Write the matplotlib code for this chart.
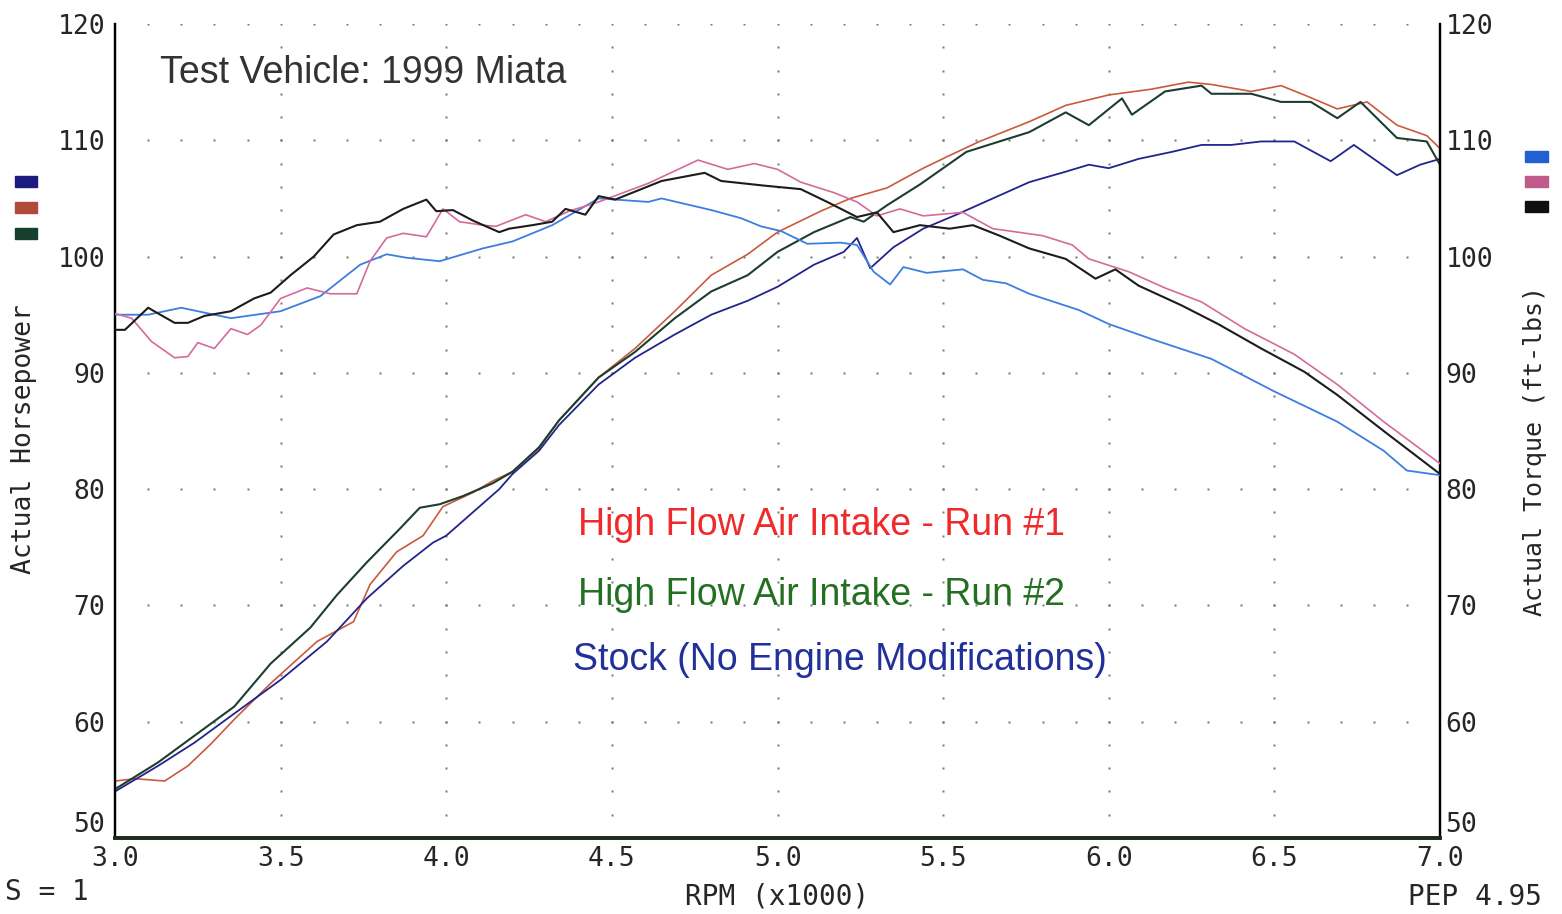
import numpy as np
import matplotlib
matplotlib.use("Agg")
import matplotlib.pyplot as plt
from matplotlib.patches import Rectangle

# ---------------- data ----------------
rpm_tq_stock = [3.0, 3.1, 3.2, 3.35, 3.5, 3.62, 3.74, 3.82, 3.88, 3.98, 4.11, 4.2, 4.32, 4.46, 4.61, 4.65,
                4.8, 4.89, 4.95, 5.01, 5.09, 5.19, 5.24, 5.29, 5.34, 5.38, 5.45, 5.56, 5.62, 5.69, 5.76, 5.91, 6.0,
                6.13, 6.31, 6.5, 6.69, 6.83, 6.9, 7.0]
tq_stock = [95.0, 95.0, 95.6, 94.7, 95.3, 96.6, 99.3, 100.2, 99.9, 99.6, 100.7, 101.3, 102.7, 105.0, 104.7, 105.0,
            104.0, 103.3, 102.6, 102.2, 101.1, 101.2, 101.0, 98.7, 97.6, 99.1, 98.6, 98.9, 98.0, 97.7, 96.8, 95.4, 94.2,
            92.9, 91.2, 88.4, 85.8, 83.3, 81.6, 81.2]

rpm_tq_run1 = [3.0, 3.05, 3.11, 3.18, 3.22, 3.25, 3.3, 3.35, 3.4, 3.44, 3.5, 3.58, 3.65, 3.73, 3.77, 3.82, 3.87,
               3.94, 3.99, 4.04, 4.11, 4.15, 4.24, 4.3, 4.37, 4.46, 4.61, 4.76, 4.85, 4.93, 5.0, 5.07, 5.17,
               5.24, 5.3, 5.37, 5.44, 5.56, 5.65, 5.8, 5.89, 5.94, 6.06, 6.17, 6.28, 6.41, 6.56, 6.69, 6.83, 7.0]
tq_run1 = [95.1, 94.7, 92.7, 91.3, 91.4, 92.6, 92.1, 93.8, 93.3, 94.1, 96.4, 97.3, 96.8, 96.8, 99.6, 101.6, 102.0,
           101.7, 104.1, 103.0, 102.7, 102.6, 103.6, 103.0, 103.9, 104.7, 106.3, 108.3, 107.5, 108.0, 107.5, 106.4, 105.5,
           104.7, 103.5, 104.1, 103.5, 103.8, 102.4, 101.8, 101.0, 99.8, 98.7, 97.3, 96.1, 93.8, 91.6, 89.0, 85.8, 82.2]

rpm_tq_run2 = [3.0, 3.03, 3.1, 3.18, 3.22, 3.27, 3.35, 3.42, 3.47, 3.53, 3.6, 3.66, 3.73, 3.8, 3.87, 3.94, 3.97,
               4.02, 4.08, 4.16, 4.19, 4.26, 4.32, 4.36, 4.42, 4.46, 4.51, 4.65, 4.78, 4.83, 4.96, 5.07, 5.15,
               5.24, 5.3, 5.35, 5.43, 5.52, 5.59, 5.67, 5.76, 5.87, 5.96, 6.02, 6.09, 6.22, 6.33, 6.46, 6.59,
               6.69, 6.83, 7.0]
tq_run2 = [93.7, 93.7, 95.6, 94.3, 94.3, 94.9, 95.3, 96.4, 96.9, 98.4, 100.0, 101.9, 102.7, 103.0, 104.1, 104.9, 103.9,
           104.0, 103.1, 102.1, 102.4, 102.7, 103.0, 104.1, 103.6, 105.2, 104.9, 106.5, 107.2, 106.5, 106.1, 105.8, 104.7,
           103.4, 103.8, 102.1, 102.7, 102.4, 102.7, 101.8, 100.7, 99.8, 98.1, 98.9, 97.5, 95.8, 94.2, 92.1, 90.1,
           88.1, 85.0, 81.3]

rpm_hp_stock = [3.0, 3.13, 3.24, 3.36, 3.5, 3.64, 3.76, 3.87, 3.96, 4.0, 4.16, 4.2, 4.28, 4.34, 4.46, 4.57, 4.69,
                4.8, 4.91, 5.0, 5.11, 5.2, 5.24, 5.28, 5.35, 5.44, 5.54, 5.65, 5.76, 5.87, 5.94, 6.0, 6.09, 6.19,
                6.28, 6.37, 6.46, 6.56, 6.67, 6.74, 6.87, 6.94, 7.0]
hp_stock = [54.0, 56.2, 58.2, 60.7, 63.6, 66.9, 70.6, 73.4, 75.4, 76.0, 80.0, 81.3, 83.3, 85.5, 89.0, 91.3, 93.3,
            95.0, 96.2, 97.4, 99.3, 100.4, 101.6, 99.0, 100.8, 102.4, 103.6, 105.0, 106.4, 107.3, 107.9, 107.6, 108.4, 109.0,
            109.6, 109.6, 109.9, 109.9, 108.2, 109.6, 107.0, 107.9, 108.4]

rpm_hp_run1 = [3.0, 3.06, 3.15, 3.22, 3.29, 3.36, 3.47, 3.61, 3.72, 3.77, 3.85, 3.93, 3.99, 4.08, 4.14, 4.2, 4.28,
               4.34, 4.46, 4.57, 4.69, 4.8, 4.91, 5.0, 5.13, 5.22, 5.33, 5.44, 5.52, 5.61, 5.76, 5.87, 6.0, 6.13,
               6.24, 6.31, 6.43, 6.52, 6.59, 6.69, 6.78, 6.87, 6.96, 7.0]
hp_run1 = [54.9, 55.1, 54.9, 56.2, 58.1, 60.2, 63.3, 66.9, 68.6, 71.8, 74.6, 76.0, 78.5, 79.7, 80.7, 81.5, 83.5,
           85.9, 89.6, 92.1, 95.3, 98.4, 100.2, 102.1, 103.9, 105.0, 105.9, 107.6, 108.7, 109.9, 111.6, 113.0, 113.9, 114.4,
           115.0, 114.8, 114.2, 114.7, 113.9, 112.7, 113.3, 111.3, 110.4, 109.3]

rpm_hp_run2 = [3.0, 3.13, 3.24, 3.36, 3.47, 3.59, 3.67, 3.76, 3.86, 3.92, 3.98, 4.05, 4.14, 4.2, 4.28, 4.34, 4.46,
               4.57, 4.69, 4.8, 4.91, 5.0, 5.11, 5.22, 5.26, 5.33, 5.43, 5.5, 5.57, 5.67, 5.76, 5.87, 5.94, 6.04,
               6.07, 6.17, 6.28, 6.31, 6.43, 6.52, 6.61, 6.69, 6.76, 6.87, 6.96, 7.0]
hp_run2 = [54.2, 56.5, 58.8, 61.3, 65.0, 68.1, 70.9, 73.7, 76.6, 78.4, 78.7, 79.4, 80.5, 81.5, 83.6, 85.9, 89.6,
           91.8, 94.7, 97.0, 98.4, 100.4, 102.1, 103.4, 103.0, 104.4, 106.2, 107.6, 109.0, 109.9, 110.7, 112.4, 111.3, 113.6,
           112.2, 114.2, 114.7, 114.0, 114.0, 113.3, 113.3, 111.9, 113.3, 110.2, 109.9, 107.9]

x_ticks = [3.0, 3.5, 4.0, 4.5, 5.0, 5.5, 6.0, 6.5, 7.0]
x_tick_labels = ["3.0", "3.5", "4.0", "4.5", "5.0", "5.5", "6.0", "6.5", "7.0"]
y_ticks = [50, 60, 70, 80, 90, 100, 110, 120]
y_tick_labels = ["50", "60", "70", "80", "90", "100", "110", "120"]

legend_labels = ["High Flow Air Intake - Run #1", "High Flow Air Intake - Run #2",
                 "Stock (No Engine Modifications)"]

# ---------------- figure ----------------
W, H = 1562, 914
fig = plt.figure(figsize=(W / 100, H / 100), dpi=100)
fig.patch.set_facecolor("white")
ax = fig.add_axes([115 / W, 1 - 838 / H, 1325 / W, (838 - 24) / H])
ax.set_xlim(3.0, 7.0)
ax.set_ylim(50, 120)
ax2 = ax.twinx()
ax2.set_ylim(50, 120)

mono = "DejaVu Sans Mono"
narrow = ["Liberation Sans Narrow", "Liberation Sans", "DejaVu Sans"]
txt_c = "#262626"

# dotted grid
dot_c = "#6f7f70"
for yv in y_ticks[1:]:
    xs = np.arange(3.1, 6.96, 0.1)
    ax.plot(xs, np.full_like(xs, yv), ls="none", marker="s", ms=2.0, mfc=dot_c, mec="none", zorder=1)
for xv in x_ticks[1:-1]:
    ys = np.arange(52, 120, 2)
    ax.plot(np.full_like(ys, xv, dtype=float), ys, ls="none", marker="s", ms=2.0, mfc=dot_c, mec="none", zorder=1)

# horsepower curves
ax.plot(rpm_hp_run1, hp_run1, color="#c95a3c", lw=1.2, zorder=3)
ax.plot(rpm_hp_stock, hp_stock, color="#22248c", lw=1.3, zorder=3)
ax.plot(rpm_hp_run2, hp_run2, color="#1d3e2e", lw=1.5, zorder=4)
# torque curves
ax2.plot(rpm_tq_stock, tq_stock, color="#3c7ee0", lw=1.3, zorder=3)
ax2.plot(rpm_tq_run1, tq_run1, color="#d66a9c", lw=1.2, zorder=3)
ax2.plot(rpm_tq_run2, tq_run2, color="#1c1c1c", lw=1.5, zorder=4)

# spines / ticks
for a in (ax, ax2):
    a.spines["top"].set_visible(False)
    a.spines["left"].set_linewidth(1.6)
    a.spines["right"].set_linewidth(1.6)
    a.spines["bottom"].set_linewidth(2.6)
    a.spines["bottom"].set_color("#1e2a1e")
ax.set_xticks(x_ticks)
ax.set_xticklabels(x_tick_labels, fontfamily=mono, fontsize=19, color=txt_c)
ax.set_yticks(y_ticks)
ax.set_yticklabels(y_tick_labels, fontfamily=mono, fontsize=19, color=txt_c)
ax2.set_yticks(y_ticks)
ax2.set_yticklabels(y_tick_labels, fontfamily=mono, fontsize=19, color=txt_c)
ax.tick_params(axis="both", length=0)
ax.tick_params(axis="x", pad=6)
ax.tick_params(axis="y", pad=7)
ax2.tick_params(axis="y", length=0, pad=4)
ax.get_yticklabels()[0].set_va("bottom")
ax2.get_yticklabels()[0].set_va("bottom")

ax.set_xlabel("RPM (x1000)", fontfamily=mono, fontsize=20, color=txt_c, labelpad=7)
ax.set_ylabel("Actual Horsepower", fontfamily=mono, fontsize=19, color=txt_c)
ax.yaxis.set_label_coords(-0.059, 0.49)
ax2.set_ylabel("Actual Torque (ft-lbs)", fontfamily=mono, fontsize=18, color=txt_c, rotation=90)
ax2.yaxis.set_label_coords(1.063, 0.476)

fig.text(5 / W, 1 - 892 / H, "S = 1", fontfamily=mono, fontsize=20, color=txt_c, va="center", ha="left")
fig.text(1542 / W, 1 - 897 / H, "PEP 4.95", fontfamily=mono, fontsize=20, color=txt_c, va="center", ha="right")

# annotations
fig.text(160 / W, 1 - 73 / H, "Test Vehicle: 1999 Miata", fontfamily=narrow, fontsize=27,
         color="#333333", va="center", ha="left")
leg_colors = ["#f02a2a", "#237023", "#22309a"]
leg_pos = [(578, 525), (578, 595), (573, 660)]
for lab, c, (px, py) in zip(legend_labels, leg_colors, leg_pos):
    fig.text(px / W, 1 - py / H, lab, fontfamily=narrow, fontsize=27, color=c, va="center", ha="left")

# colour swatches
left_sw = ["#1c1c80", "#b04a3a", "#16402e"]
for i, c in enumerate(left_sw):
    fig.patches.append(Rectangle((15 / W, 1 - (187 + 26 * i) / H), 22 / W, 11 / H,
                                 transform=fig.transFigure, color=c))
right_sw = ["#2060d0", "#c05a8a", "#101010"]
for i, c in enumerate(right_sw):
    fig.patches.append(Rectangle((1525 / W, 1 - (162 + 25 * i) / H), 23 / W, 11 / H,
                                 transform=fig.transFigure, color=c))

fig.savefig("out.png", dpi=100)
